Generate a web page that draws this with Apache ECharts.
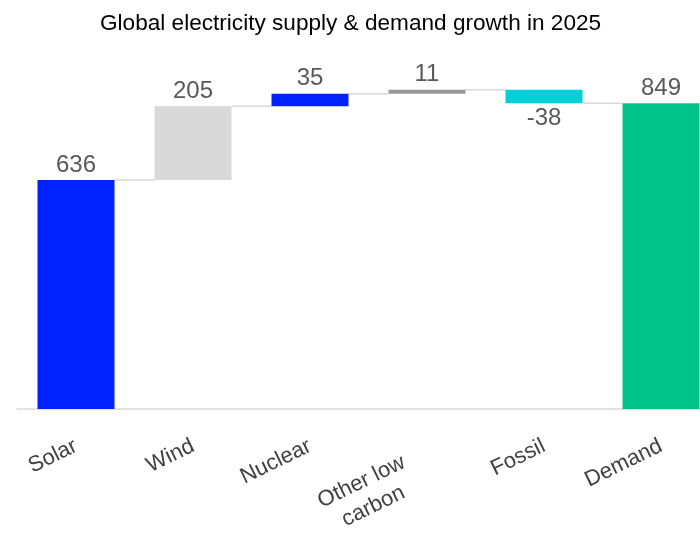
<!DOCTYPE html>
<html>
<head>
<meta charset="utf-8">
<style>
  html, body { margin: 0; padding: 0; background: #fff; }
  #main { width: 700px; height: 533px; }
</style>
<script src="https://cdn.jsdelivr.net/npm/echarts@6/dist/echarts.min.js"></script>
</head>
<body>
<div id="main"></div>
<script>
// 类目与数值
var categories = ['Solar', 'Wind', 'Nuclear', 'Other low\ncarbon', 'Fossil', 'Demand'];
var changes = [636, 205, 35, 11, -38, 849];
var isTotal = [false, false, false, false, false, true];
var barColors = ['#0022ff', '#d9d9d9', '#0022ff', '#999999', '#00cfd6', '#00c389'];

// 瀑布图: 透明底座 + 可见部分
var base = [], visible = [], levels = [];
var running = 0;
changes.forEach(function (v, i) {
  if (isTotal[i]) {
    base.push(0);
    visible.push(v);
    running = v;
  } else if (v >= 0) {
    base.push(running);
    visible.push(v);
    running += v;
  } else {
    base.push(running + v);
    visible.push(-v);
    running += v;
  }
  levels.push(running);
});

var barWidth = 77;
var fontFamily = 'Liberation Sans';
var myChart = echarts.init(document.getElementById('main'));
myChart.setOption({
  animation: false,
  title: {
    text: 'Global electricity supply & demand growth in 2025',
    left: 95,
    top: 7,
    textStyle: { fontFamily: fontFamily, fontSize: 22.6, fontWeight: 'normal', color: '#000' }
  },
  grid: [
    { left: 76, top: 49, right: 39, height: 360, outerBoundsMode: 'none' },
    { left: 17, top: 49, right: 0, height: 360, outerBoundsMode: 'none' } // 底部轴线
  ],
  xAxis: [{
    type: 'category',
    gridIndex: 0,
    data: categories,
    boundaryGap: false,
    axisLine: { show: false },
    axisTick: { show: false },
    axisLabel: {
      rotate: 26,
      interval: 0,
      margin: 36,
      align: 'right',
      verticalAlign: 'middle',
      formatter: function (v) {
        var lines = v.split('\n');
        if (lines.length === 1) return '{c|' + v + '}';
        // 两行标签: 顶部留空, 整体向左下偏移
        return '{sp| }\n' + lines.map(function (s) { return '{p|' + s + '}'; }).join('\n');
      },
      rich: {
        c: { fontFamily: fontFamily, fontSize: 22, color: '#404040', align: 'center', lineHeight: 26 },
        p: { fontFamily: fontFamily, fontSize: 22, color: '#404040', align: 'center', lineHeight: 27, padding: [0, 28, 0, 0] },
        sp: { fontSize: 10, lineHeight: 36 }
      }
    }
  }, {
    type: 'value',
    gridIndex: 1,
    min: 0,
    max: 1,
    axisLine: { show: true, onZero: false, lineStyle: { color: '#d9d9d9', width: 1.5 } },
    axisTick: { show: false },
    axisLabel: { show: false },
    splitLine: { show: false }
  }],
  yAxis: [{
    type: 'value',
    gridIndex: 0,
    min: 0,
    max: 1000,
    show: false
  }, {
    type: 'value',
    gridIndex: 1,
    show: false
  }],
  series: [
    {
      type: 'bar',
      stack: 'wf',
      barWidth: barWidth,
      itemStyle: { color: 'transparent' },
      silent: true,
      data: base
    },
    {
      type: 'bar',
      stack: 'wf',
      barWidth: barWidth,
      data: visible.map(function (v, i) {
        return {
          value: v,
          itemStyle: { color: barColors[i] },
          label: {
            show: true,
            position: changes[i] < 0 ? 'bottom' : 'top',
            distance: 3,
            formatter: String(changes[i]),
            fontFamily: fontFamily,
            fontSize: 24,
            color: '#595959'
          }
        };
      })
    },
    {
      // 连接线
      type: 'custom',
      silent: true,
      z: 1,
      data: levels.slice(0, levels.length - 1).map(function (v, i) { return [i, v]; }),
      renderItem: function (params, api) {
        var i = api.value(0);
        var lv = api.value(1);
        var p1 = api.coord([i, lv]);
        var p2 = api.coord([i + 1, lv]);
        return {
          type: 'line',
          shape: { x1: p1[0] + barWidth / 2, y1: p1[1], x2: p2[0] - barWidth / 2, y2: p2[1] },
          style: { stroke: '#d9d9d9', lineWidth: 1.5 }
        };
      }
    }
  ]
});
</script>
</body>
</html>
